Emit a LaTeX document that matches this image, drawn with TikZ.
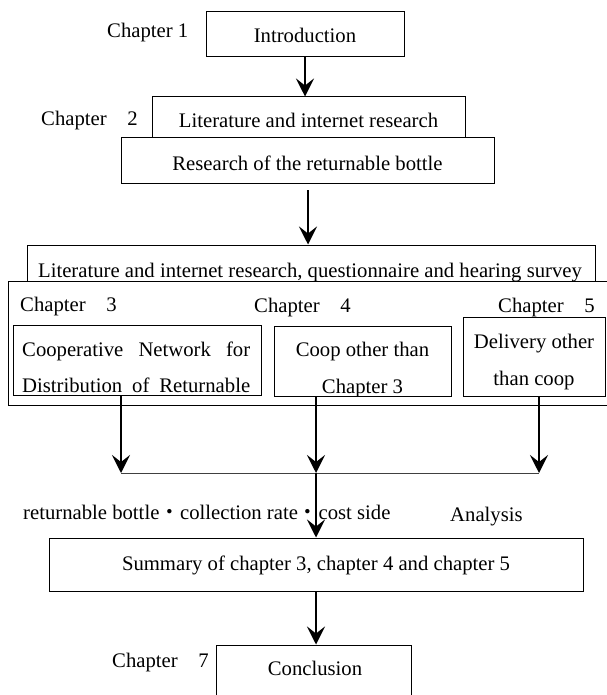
\documentclass[tikz,border=0pt]{standalone}
\usepackage{fontspec}
\setmainfont{Liberation Serif}
\newfontfamily\cjkfont{Noto Sans CJK JP}
\usetikzlibrary{arrows.meta}
\begin{document}
\begin{tikzpicture}[x=1pt,y=-1pt,
  box/.style={draw,line width=1pt,inner sep=0pt,rectangle},
  txt/.style={inner sep=0pt,font=\fontsize{20.7}{24}\selectfont},
  arr/.style={line width=2pt,-{Stealth[length=18pt,width=18pt,inset=7pt]}},
  thinline/.style={line width=1pt,draw=black!75},
]
\useasboundingbox (0,0) rectangle (606,695);
% boxes
\node[box,minimum width=198pt,minimum height=45pt] (intro) at (305,34.5) {};
\node[box,minimum width=313pt,minimum height=41pt] (lit) at (308.5,117.5) {};
\node[box,minimum width=373pt,minimum height=45pt] (research) at (307.5,160.5) {};
\node[box,minimum width=568pt,minimum height=36pt] (lit2) at (311,263) {};
\node[box,minimum width=604pt,minimum height=124pt] (cont) at (310,343) {};
\node[box,minimum width=248pt,minimum height=70pt] (boxA) at (137,360) {};
\node[box,minimum width=177pt,minimum height=70pt] (boxB) at (362.5,361) {};
\node[box,minimum width=142pt,minimum height=79pt] (boxC) at (534,356.5) {};
\node[box,minimum width=534pt,minimum height=53pt] (summary) at (316,564.5) {};
\node[box,minimum width=195pt,minimum height=75pt] (concl) at (313.5,682.5) {};
% texts
\node[txt,anchor=mid west] (c1) at (107,35) {Chapter 1};
\node[txt,anchor=mid] (tintro) at (305,40) {Introduction};
\node[txt,anchor=mid west] (c2) at (41,123) {Chapter\hspace{1em}2};
\node[txt,anchor=mid] (tlit) at (308.5,125) {Literature and internet research};
\node[txt,anchor=mid] (tres) at (307.5,168) {Research of the returnable bottle};
\node[txt,anchor=mid] (tlit2) at (310,275) {Literature and internet research, questionnaire and hearing survey};
\node[txt,anchor=mid west] (c3) at (20,309) {Chapter\hspace{1em}3};
\node[txt,anchor=mid west] (c4) at (254,310) {Chapter\hspace{1em}4};
\node[txt,anchor=mid west] (c5) at (498,310) {Chapter\hspace{1em}5};
\node[txt,anchor=mid west] (ta1) at (22,354) {\hbox to 228pt{Cooperative\hfill Network\hfill for}};
\node[txt,anchor=mid west] (ta2) at (22,390) {\hbox to 228pt{Distribution\hfill of\hfill Returnable}};
\node[txt,anchor=mid] (tb1) at (362.5,354) {Coop other than};
\begin{scope}
\clip (boxB.north west) rectangle (boxB.south east);
\node[txt,anchor=mid] (tb2) at (362.5,391) {Chapter 3};
\end{scope}
\node[txt,anchor=mid] (tc1) at (534,346) {Delivery other};
\node[txt,anchor=mid] (tc2) at (534,383) {than coop};
\node[txt,anchor=mid west] (tret) at (23,517) {returnable bottle{\cjkfont ・}collection rate{\cjkfont ・}cost side};
\node[txt,anchor=mid west] (tana) at (450,519) {Analysis};
\node[txt,anchor=mid] (tsum) at (316,568) {Summary of chapter 3, chapter 4 and chapter 5};
\node[txt,anchor=mid west] (c7) at (112,665) {Chapter\hspace{1em}7};
\node[txt,anchor=mid] (tcon) at (315,673) {Conclusion};
% coordinates
\coordinate (r0) at (308,190);
\coordinate (jA) at (121,473);
\coordinate (jB) at (316,473);
\coordinate (jC) at (539,473);
% connectors
\draw[arr] (intro.south) -- (intro.south |- lit.north);
\draw[arr] (r0) -- (r0 |- lit2.north);
\draw[thinline] (jA) -- (jC);
\draw[arr] (jA |- boxA.south) -- (jA);
\draw[arr] (jB |- boxB.south) -- (jB);
\draw[arr] (jC |- boxC.south) -- (jC);
\draw[arr] (jB) -- (jB |- summary.north);
\draw[arr] (jB |- summary.south) -- (jB |- concl.north);
\end{tikzpicture}
\end{document}
